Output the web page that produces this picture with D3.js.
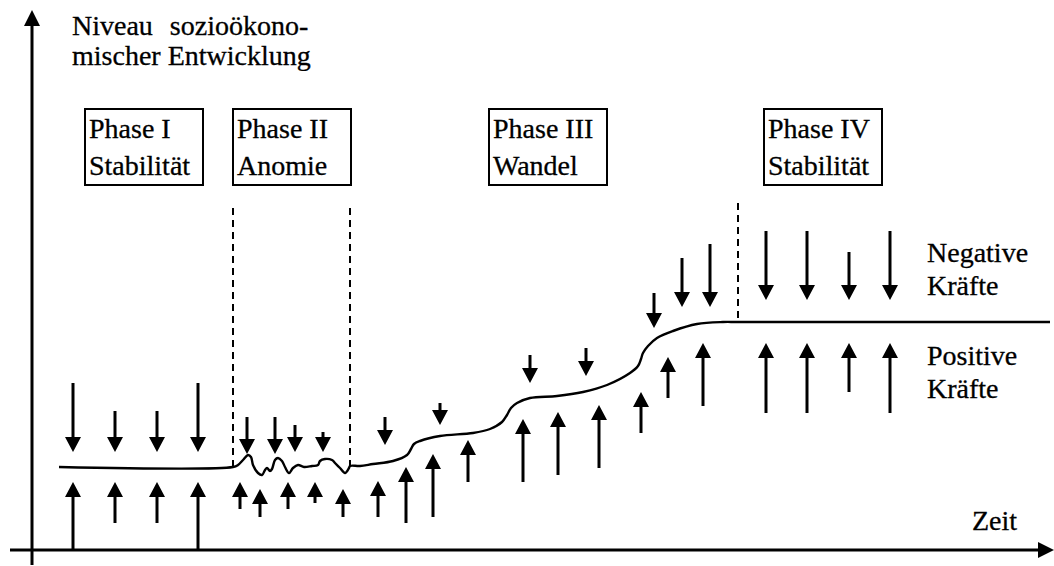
<!DOCTYPE html>
<html>
<head>
<meta charset="utf-8">
<script src="https://cdn.jsdelivr.net/npm/d3@7"></script>
<style>
body { margin: 0; background: #fff; }
svg { display: block; background: #fff; }
</style>
</head>
<body>
<svg></svg>
<script>
// t = time from origin, l = level above the time axis
let phaseNames = ['Phase I', 'Phase II', 'Phase III', 'Phase IV'];
let phaseStates = ['Stabilität', 'Anomie', 'Wandel', 'Stabilität'];
let phaseStarts = [53, 201, 457, 732];

let boundaryT = [201, 318, 706];
let boundaryLevel = [83, 83, 228];

// development path
let pathT = [27, 201, 206, 211, 216, 219, 221, 226, 230, 233, 235, 238, 240, 243, 246, 250, 253, 257, 261, 266, 272, 280, 286, 288, 293, 300, 303, 308, 313, 317, 318,
             328, 341, 361, 375, 379, 382, 388, 408, 441, 458, 470, 475, 479, 485, 498, 525, 551, 575, 598, 606, 609, 611, 616, 625, 641, 665, 691, 706, 1018];
let pathLevel = [83, 83, 85, 90, 95, 93, 85, 77, 75, 80, 82, 79, 81, 90, 92, 89, 83, 77, 82, 85, 83, 84, 85, 89, 91, 90, 87, 82, 77, 82, 84,
                 84, 86, 89, 95, 101, 106, 109, 114, 117, 121, 128, 135, 142, 147, 152, 154, 158, 165, 177, 184, 191, 197, 204, 212, 219, 226, 228, 228, 228];

// negative forces (pointing down)
let downT = [41, 83, 125, 166, 215, 243, 263, 291, 353, 408, 498, 554, 622, 650, 678, 734, 775, 817, 858];
let downFrom = [167, 139, 139, 167, 133, 133, 125, 118, 133, 147, 195, 202, 257, 292, 306, 319, 319, 298, 319];
let downTo = [98, 98, 98, 98, 96, 96, 98, 98, 105, 125, 167, 174, 222, 243, 243, 250, 250, 250, 250];

// positive forces (pointing up)
let upT = [41, 83, 125, 166, 208, 228, 256, 283, 311, 346, 374, 401, 436, 491, 526, 567, 609, 636, 671, 734, 775, 817, 858];
let upFrom = [0, 27, 27, 0, 41, 33, 41, 47, 33, 33, 27, 33, 68, 68, 75, 82, 117, 152, 144, 137, 137, 158, 137];
let upTo = [68, 68, 68, 68, 68, 61, 68, 68, 61, 69, 83, 96, 110, 131, 138, 145, 158, 193, 207, 207, 207, 207, 207];

let width = 1054;
let height = 566;
let fontFamily = "'Liberation Serif', 'Times New Roman', Times, 'DejaVu Serif', serif";

let svg = d3.select('svg')
            .attr('width', width)
            .attr('height', height);

let xScale = d3.scaleLinear().domain([0, 1022]).range([32, 1054]);
let yScale = d3.scaleLinear().domain([0, 550]).range([550, 0]);

let headLen = 15;
let headHalf = 8;

let addText = (parent, t, l, str) => parent.append('text')
    .attr('x', xScale(t))
    .attr('y', yScale(l))
    .attr('font-family', fontFamily)
    .attr('font-size', 28)
    .attr('fill', '#000')
    .attr('stroke', '#000')
    .attr('stroke-width', 0.3)
    .text(str);

let drawArrow = (t, from, to) => {
    let x = xScale(t);
    let y0 = yScale(from);
    let y1 = yScale(to);
    let dir = y1 > y0 ? 1 : -1;
    svg.append('line')
       .attr('x1', x).attr('y1', y0)
       .attr('x2', x).attr('y2', y1 - dir * headLen + dir)
       .attr('stroke', '#000')
       .attr('stroke-width', 3);
    svg.append('path')
       .attr('d', `M${x},${y1} L${x - headHalf},${y1 - dir * headLen} L${x + headHalf},${y1 - dir * headLen} Z`)
       .attr('fill', '#000');
};

// axes
svg.append('line')
   .attr('x1', xScale(0)).attr('y1', yScale(-15))
   .attr('x2', xScale(0)).attr('y2', yScale(540 - headLen))
   .attr('stroke', '#000').attr('stroke-width', 3);
svg.append('path')
   .attr('d', `M${xScale(0)},${yScale(540)} L${xScale(0) - headHalf},${yScale(540) + 16} L${xScale(0) + headHalf},${yScale(540) + 16} Z`)
   .attr('fill', '#000');

svg.append('line')
   .attr('x1', xScale(-22)).attr('y1', yScale(0))
   .attr('x2', xScale(1022) - 14).attr('y2', yScale(0))
   .attr('stroke', '#000').attr('stroke-width', 3);
svg.append('path')
   .attr('d', `M${xScale(1022)},${yScale(0)} L${xScale(1022) - 16},${yScale(0) - headHalf} L${xScale(1022) - 16},${yScale(0) + headHalf} Z`)
   .attr('fill', '#000');

// title of the vertical axis
svg.append('clipPath')
   .attr('id', 'titleClip')
   .append('rect')
   .attr('x', 0).attr('y', 0)
   .attr('width', width).attr('height', yScale(479));

let title = svg.append('g').attr('clip-path', 'url(#titleClip)');
addText(title, 40, 515, 'Niveau sozioökono-').style('word-spacing', '10px');
addText(title, 40, 485, 'mischer Entwicklung');

addText(svg, 940, 20, 'Zeit');

// phase boxes
phaseNames.forEach((name, i) => {
    let x0 = xScale(phaseStarts[i]);
    svg.append('rect')
       .attr('x', x0).attr('y', yScale(441))
       .attr('width', 118).attr('height', yScale(365) - yScale(441))
       .attr('fill', 'none')
       .attr('stroke', '#000')
       .attr('stroke-width', 2);
    addText(svg, phaseStarts[i] + 4, 412, name);
    addText(svg, phaseStarts[i] + 4, 375, phaseStates[i]);
});

// dashed phase boundaries
boundaryT.forEach((t, i) => {
    svg.append('line')
       .attr('x1', xScale(t)).attr('y1', yScale(i === 2 ? 347 : 342))
       .attr('x2', xScale(t)).attr('y2', yScale(boundaryLevel[i]))
       .attr('stroke', '#000')
       .attr('stroke-width', 2)
       .attr('stroke-dasharray', '7,5');
});

// development path
let pathPoints = pathT.map((t, i) => [t, pathLevel[i]]);
let line = d3.line()
             .x(d => xScale(d[0]))
             .y(d => yScale(d[1]))
             .curve(d3.curveCatmullRom.alpha(0.5));
svg.append('path')
   .attr('d', line(pathPoints))
   .attr('fill', 'none')
   .attr('stroke', '#000')
   .attr('stroke-width', 2.4);

// forces
downT.forEach((t, i) => drawArrow(t, downFrom[i], downTo[i]));
upT.forEach((t, i) => drawArrow(t, upFrom[i], upTo[i]));

addText(svg, 895, 288, 'Negative');
addText(svg, 895, 255, 'Kräfte');
addText(svg, 895, 185, 'Positive');
addText(svg, 895, 152, 'Kräfte');
</script>
</body>
</html>
